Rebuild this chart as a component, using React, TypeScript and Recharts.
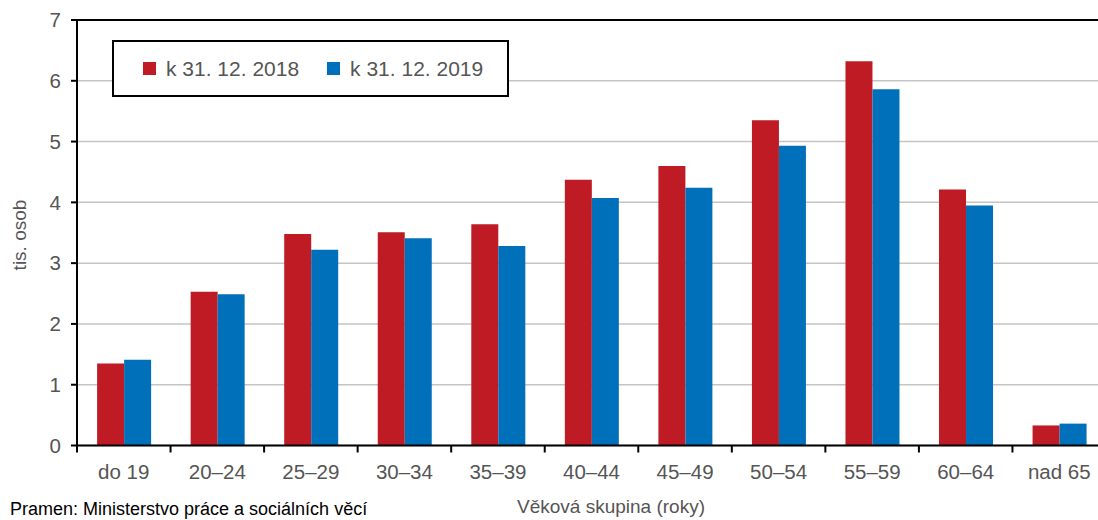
import { BarChart, Bar, XAxis, YAxis, CartesianGrid, ReferenceLine } from 'recharts';

const categories = ['do 19', '20–24', '25–29', '30–34', '35–39', '40–44', '45–49', '50–54', '55–59', '60–64', 'nad 65'];
const values2018 = [1.35, 2.53, 3.48, 3.51, 3.64, 4.37, 4.6, 5.35, 6.32, 4.21, 0.33];
const values2019 = [1.41, 2.49, 3.22, 3.41, 3.28, 4.07, 4.24, 4.93, 5.86, 3.95, 0.36];
const yTicks = [0, 1, 2, 3, 4, 5, 6, 7];

const seriesNames = ['k 31. 12. 2018', 'k 31. 12. 2019'];
const RED = '#BE1B24';
const BLUE = '#0070BA';
const TEXT = '#555555';
const FONT = '"Liberation Sans", Arial, sans-serif';

const data = categories.map((c, i) => ({ cat: c, a: values2018[i], b: values2019[i] }));

const CHART_W = 1106;
const CHART_H = 520;
const LEFT = 77;
const PLOT_W = CHART_W - LEFT;
const STEP = PLOT_W / categories.length;

const CategoryTick = ({ x, y, payload }: any) => (
  <g>
    <line x1={x - STEP / 2} x2={x - STEP / 2} y1={y - 19} y2={y - 12} stroke="#000" strokeWidth={2} />
    <text x={x} y={y} dy="0.71em" textAnchor="middle" fill={TEXT} fontSize={20.5} fontFamily={FONT}>
      {payload.value}
    </text>
  </g>
);

const LegendBox = () => (
  <div
    style={{
      position: 'absolute',
      left: 112,
      top: 40,
      boxSizing: 'border-box',
      width: 397,
      height: 57,
      border: '2px solid #000',
      background: '#fff',
      display: 'flex',
      alignItems: 'center',
      paddingLeft: 29,
      fontFamily: FONT,
      fontSize: 21,
      color: TEXT,
      whiteSpace: 'nowrap',
    }}
  >
    {seriesNames.map((n, i) => (
      <div key={n} style={{ display: 'flex', alignItems: 'center', marginRight: 28, flexShrink: 0 }}>
        <span style={{ width: 13, height: 13, background: i === 0 ? RED : BLUE, display: 'inline-block', marginRight: 10 }} />
        <span>{n}</span>
      </div>
    ))}
  </div>
);

export default function App() {
  return (
    <div style={{ position: 'absolute', left: 0, top: 0, width: 1098, height: 520, overflow: 'hidden', background: '#fff' }}>
      <BarChart
        width={CHART_W}
        height={CHART_H}
        data={data}
        margin={{ top: 20, right: 0, left: 0, bottom: 34.5 }}
        barCategoryGap="21.5%"
        barGap={0}
      >
        <CartesianGrid vertical={false} stroke="#c4c4c4" strokeWidth={1.5} />
        <XAxis
          dataKey="cat"
          height={40}
          axisLine={{ stroke: '#000', strokeWidth: 2 }}
          tickLine={false}
          tickSize={6}
          tickMargin={13}
          interval={0}
          tick={<CategoryTick />}
        />
        <YAxis
          width={LEFT}
          domain={[0, 7]}
          ticks={yTicks}
          interval={0}
          axisLine={{ stroke: '#000', strokeWidth: 2 }}
          tickLine={{ stroke: '#000', strokeWidth: 2 }}
          tickSize={6}
          tickMargin={10}
          tick={{ fill: TEXT, fontSize: 20.5, fontFamily: FONT }}
        />
        <ReferenceLine y={7} stroke="#000" strokeWidth={2} />
        <Bar dataKey="a" name={seriesNames[0]} fill={RED} isAnimationActive={false} />
        <Bar dataKey="b" name={seriesNames[1]} fill={BLUE} isAnimationActive={false} />
      </BarChart>
      <LegendBox />
      <div
        style={{
          position: 'absolute',
          left: 8,
          top: 235,
          transform: 'translate(-50%, -50%) rotate(-90deg)',
          transformOrigin: 'center',
          marginLeft: 12,
          whiteSpace: 'nowrap',
          fontFamily: FONT,
          fontSize: 19,
          color: TEXT,
        }}
      >
        tis. osob
      </div>
      <div
        style={{
          position: 'absolute',
          left: 611,
          top: 496,
          transform: 'translateX(-50%)',
          whiteSpace: 'nowrap',
          fontFamily: FONT,
          fontSize: 19,
          color: TEXT,
        }}
      >
        Věková skupina (roky)
      </div>
      <div
        style={{
          position: 'absolute',
          left: 10,
          top: 499,
          whiteSpace: 'nowrap',
          fontFamily: FONT,
          fontSize: 18,
          color: '#000',
        }}
      >
        Pramen: Ministerstvo práce a sociálních věcí
      </div>
    </div>
  );
}
